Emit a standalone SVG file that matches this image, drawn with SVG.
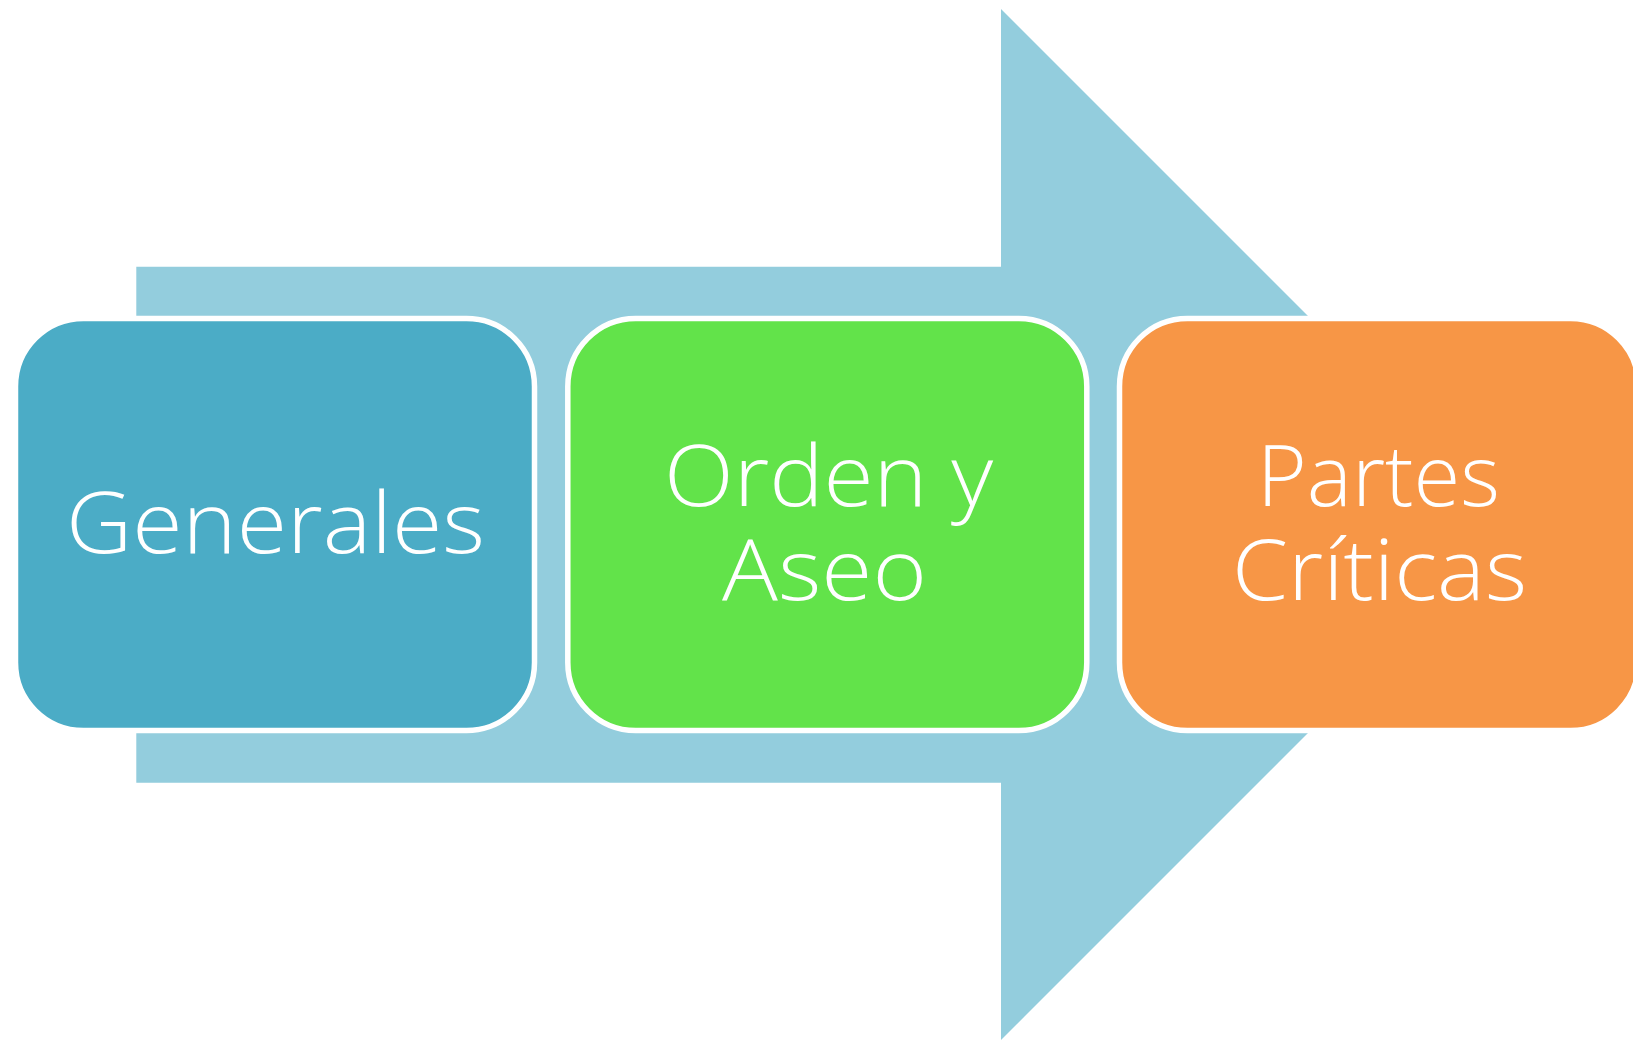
<svg xmlns="http://www.w3.org/2000/svg" width="1633" height="1048" viewBox="0 0 1633 1048">
<style>
.box{stroke:#ffffff;stroke-width:5.5}
.lbl{fill:#ffffff;font-family:"Open Sans","Liberation Sans",sans-serif;font-weight:300;font-size:85px}
</style>
<rect x="0" y="0" width="1633" height="1048" fill="#ffffff"/>
<g id="connectors">
<path d="M136.3,266.7 H1001 V9 L1516.5,524.5 L1001,1040 V782.7 H136.3 Z" fill="#93CDDD"/>
</g>
<g id="node-generales">
<rect class="box" x="15.5" y="318.5" width="519" height="412" rx="68" ry="68" fill="#4BACC6"/>
<text class="lbl" x="66" y="553" textLength="419" lengthAdjust="spacingAndGlyphs">Generales</text>
</g>
<g id="node-orden">
<rect class="box" x="567.8" y="318.5" width="519" height="412" rx="68" ry="68" fill="#62E34A"/>
<text class="lbl" x="664" y="506" textLength="329" lengthAdjust="spacingAndGlyphs">Orden y</text>
<text class="lbl" x="722" y="599.5" textLength="205" lengthAdjust="spacingAndGlyphs">Aseo</text>
</g>
<g id="node-partes">
<rect class="box" x="1119.5" y="318.5" width="519" height="412" rx="68" ry="68" fill="#F79646"/>
<text class="lbl" x="1257" y="506" textLength="243" lengthAdjust="spacingAndGlyphs">Partes</text>
<text class="lbl" x="1232" y="599.5" textLength="295" lengthAdjust="spacingAndGlyphs">Críticas</text>
</g>
</svg>
